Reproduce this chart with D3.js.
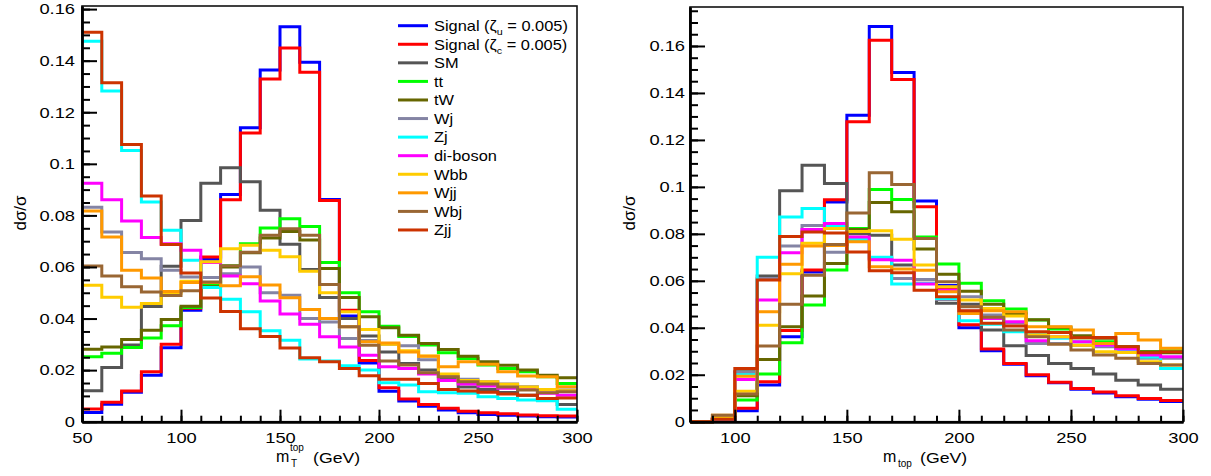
<!DOCTYPE html>
<html><head><meta charset="utf-8">
<script src="https://cdn.jsdelivr.net/npm/d3@7"></script>
<style>
body{margin:0;background:#fff}
svg{display:block}
text{font-family:"Liberation Sans",Arial,Helvetica,sans-serif;fill:#000}
</style>
</head><body>
<svg id="c" width="1211" height="476"></svg>
<script>
// ---------- data ----------
const legendLabels = ["Signal (ζ_u = 0.005)","Signal (ζ_c = 0.005)","SM","tt","tW","Wj","Zj","di-boson","Wbb","Wjj","Wbj","Zjj"];
const seriesColors = ["#0000ff","#ff0000","#555555","#00ff00","#666600","#8484a4","#00ffff","#ff00ff","#ffcc00","#ff9900","#996633","#cc3300"];

const binsLeft  = d3.range(50, 300, 10);   // lower edges, width 10
const binsRight = d3.range(80, 300, 10);
const yTickValues = [0,0.02,0.04,0.06,0.08,0.1,0.12,0.14,0.16];
const xTicksLeft  = [50,100,150,200,250,300];
const xTicksRight = [100,150,200,250,300];

// left panel: m_T^top
const L_sigU    = [0.0036,0.0068,0.0114,0.0180,0.0287,0.0432,0.0630,0.0881,0.1140,0.1364,0.1532,0.1394,0.0862,0.0410,0.0228,0.0118,0.0080,0.0060,0.0045,0.0035,0.0028,0.0025,0.0022,0.0019,0.0018];
const L_sigC    = [0.0049,0.0075,0.0119,0.0194,0.0300,0.0440,0.0639,0.0861,0.1120,0.1329,0.1449,0.1355,0.0858,0.0432,0.0237,0.0132,0.0088,0.0067,0.0052,0.0041,0.0035,0.0031,0.0026,0.0023,0.0022];
const L_SM      = [0.0120,0.0210,0.0297,0.0447,0.0603,0.0780,0.0925,0.0985,0.0930,0.0820,0.0688,0.0590,0.0482,0.0400,0.0332,0.0270,0.0226,0.0200,0.0168,0.0135,0.0125,0.0113,0.0103,0.0090,0.0067];
const L_tt      = [0.0252,0.0265,0.0288,0.0325,0.0372,0.0443,0.0530,0.0605,0.0690,0.0751,0.0787,0.0757,0.0617,0.0500,0.0426,0.0370,0.0330,0.0297,0.0267,0.0245,0.0220,0.0206,0.0194,0.0174,0.0148];
const L_tW      = [0.0281,0.0290,0.0319,0.0355,0.0396,0.0448,0.0523,0.0600,0.0655,0.0712,0.0738,0.0705,0.0594,0.0482,0.0407,0.0364,0.0335,0.0303,0.0280,0.0254,0.0232,0.0219,0.0200,0.0180,0.0170];
const L_Wj      = [0.0832,0.0736,0.0656,0.0632,0.0587,0.0561,0.0559,0.0574,0.0600,0.0500,0.0490,0.0400,0.0387,0.0323,0.0315,0.0300,0.0295,0.0240,0.0174,0.0165,0.0155,0.0146,0.0136,0.0123,0.0123];
const L_Zj      = [0.1475,0.1282,0.1052,0.0852,0.0742,0.0626,0.0520,0.0475,0.0426,0.0353,0.0316,0.0243,0.0235,0.0217,0.0200,0.0151,0.0142,0.0116,0.0112,0.0110,0.0097,0.0090,0.0084,0.0081,0.0048];
const L_diboson = [0.0925,0.0861,0.0778,0.0714,0.0690,0.0665,0.0617,0.0565,0.0535,0.0468,0.0418,0.0378,0.0329,0.0290,0.0258,0.0213,0.0206,0.0185,0.0160,0.0146,0.0138,0.0130,0.0125,0.0110,0.0103];
const L_Wbb     = [0.0529,0.0483,0.0444,0.0458,0.0498,0.0545,0.0620,0.0671,0.0684,0.0665,0.0640,0.0583,0.0500,0.0426,0.0358,0.0300,0.0275,0.0255,0.0185,0.0160,0.0155,0.0145,0.0135,0.0125,0.0120];
const L_Wjj     = [0.0817,0.0716,0.0587,0.0557,0.0505,0.0540,0.0540,0.0527,0.0562,0.0530,0.0481,0.0435,0.0400,0.0368,0.0310,0.0305,0.0270,0.0254,0.0213,0.0232,0.0223,0.0194,0.0177,0.0174,0.0136];
const L_Wbj     = [0.0604,0.0565,0.0523,0.0503,0.0489,0.0508,0.0542,0.0605,0.0657,0.0723,0.0748,0.0723,0.0532,0.0368,0.0296,0.0235,0.0220,0.0190,0.0174,0.0155,0.0146,0.0135,0.0123,0.0112,0.0116];
const L_Zjj     = [0.1510,0.1314,0.1075,0.0875,0.0687,0.0577,0.0480,0.0427,0.0360,0.0330,0.0286,0.0248,0.0232,0.0206,0.0178,0.0165,0.0165,0.0148,0.0125,0.0119,0.0114,0.0107,0.0103,0.0090,0.0092];

// right panel: m_top
const R_sigU    = [0,0.0010,0.0047,0.0156,0.0362,0.0638,0.0936,0.1305,0.1683,0.1487,0.0940,0.0580,0.0400,0.0302,0.0245,0.0196,0.0166,0.0138,0.0122,0.0106,0.0096,0.0086];
const R_sigC    = [0,0.0010,0.0057,0.0170,0.0388,0.0646,0.0945,0.1277,0.1624,0.1457,0.0915,0.0567,0.0413,0.0310,0.0248,0.0200,0.0168,0.0141,0.0126,0.0110,0.0099,0.0090];
const R_SM      = [0,0.0014,0.0213,0.0620,0.0983,0.1092,0.1014,0.0800,0.0794,0.0667,0.0605,0.0504,0.0500,0.0390,0.0323,0.0282,0.0248,0.0227,0.0203,0.0177,0.0156,0.0138];
const R_tt      = [0,0.0010,0.0092,0.0203,0.0336,0.0497,0.0646,0.0823,0.0989,0.0946,0.0787,0.0672,0.0590,0.0515,0.0480,0.0433,0.0395,0.0358,0.0340,0.0319,0.0298,0.0302];
const R_tW      = [0,0.0010,0.0110,0.0265,0.0404,0.0535,0.0674,0.0818,0.0933,0.0894,0.0735,0.0628,0.0556,0.0500,0.0460,0.0434,0.0402,0.0366,0.0355,0.0319,0.0298,0.0294];
const R_Wj      = [0,0.0012,0.0210,0.0610,0.0748,0.0835,0.0722,0.0775,0.0695,0.0610,0.0606,0.0520,0.0532,0.0454,0.0420,0.0333,0.0333,0.0326,0.0319,0.0298,0.0270,0.0270];
const R_Zj      = [0,0.0012,0.0200,0.0700,0.0872,0.0908,0.0835,0.0777,0.0700,0.0586,0.0589,0.0525,0.0430,0.0415,0.0383,0.0370,0.0355,0.0340,0.0325,0.0305,0.0275,0.0227];
const R_diboson = [0,0.0012,0.0180,0.0518,0.0720,0.0818,0.0844,0.0787,0.0690,0.0688,0.0586,0.0560,0.0470,0.0440,0.0426,0.0345,0.0362,0.0340,0.0326,0.0310,0.0284,0.0277];
const R_Wbb     = [0,0.0015,0.0130,0.0411,0.0630,0.0760,0.0823,0.0810,0.0813,0.0777,0.0667,0.0575,0.0518,0.0482,0.0450,0.0369,0.0362,0.0326,0.0298,0.0295,0.0255,0.0241];
const R_Wjj     = [0,0.0028,0.0194,0.0468,0.0671,0.0748,0.0750,0.0766,0.0660,0.0650,0.0645,0.0553,0.0461,0.0472,0.0468,0.0404,0.0404,0.0390,0.0333,0.0376,0.0348,0.0313];
const R_Wbj     = [0,0.0028,0.0118,0.0322,0.0500,0.0624,0.0755,0.0889,0.1060,0.1010,0.0780,0.0596,0.0490,0.0445,0.0390,0.0362,0.0330,0.0305,0.0284,0.0270,0.0248,0.0241];
const R_Zjj     = [0,0.0010,0.0227,0.0603,0.0789,0.0808,0.0804,0.0723,0.0643,0.0634,0.0560,0.0532,0.0472,0.0419,0.0408,0.0383,0.0380,0.0357,0.0359,0.0319,0.0294,0.0298];

const leftSeries  = [L_sigU,L_sigC,L_SM,L_tt,L_tW,L_Wj,L_Zj,L_diboson,L_Wbb,L_Wjj,L_Wbj,L_Zjj];
const rightSeries = [R_sigU,R_sigC,R_SM,R_tt,R_tW,R_Wj,R_Zj,R_diboson,R_Wbb,R_Wjj,R_Wbj,R_Zjj];

// ---------- drawing ----------
const svg = d3.select("#c");
const stretch = [];   // texts to widen (reference glyphs are horizontally stretched)

function panel(cfg){
  const x = d3.scaleLinear().domain(cfg.xDomain).range([cfg.left, cfg.right]);
  const y = d3.scaleLinear().domain(cfg.yDomain).range([cfg.bottom, cfg.top]);
  const g = svg.append("g");

  // histograms
  const line = d3.line().x(d=>x(d[0])).y(d=>y(d[1])).curve(d3.curveStepAfter);
  cfg.series.forEach((vals,i)=>{
    const pts = cfg.bins.map((b,j)=>[b, vals[j]]);
    pts.push([cfg.bins[cfg.bins.length-1]+10, vals[vals.length-1]]);
    g.append("path").attr("d", line(pts)).attr("fill","none")
      .attr("stroke", seriesColors[i]).attr("stroke-width",3)
      .attr("stroke-linejoin","miter");
  });

  // frame
  g.append("rect").attr("x",cfg.left).attr("y",cfg.top)
    .attr("width",cfg.right-cfg.left).attr("height",cfg.bottom-cfg.top)
    .attr("fill","none").attr("stroke","#111").attr("stroke-width",1.6);

  // y axis
  const yMinor = d3.range(0, cfg.yDomain[1]+1e-9, 0.005);
  const yaMin = g.append("g").attr("transform",`translate(${cfg.left},0)`)
    .call(d3.axisLeft(y).tickValues(yMinor).tickSize(-8).tickSizeOuter(0).tickFormat(""));
  const yaMaj = g.append("g").attr("transform",`translate(${cfg.left},0)`)
    .call(d3.axisLeft(y).tickValues(yTickValues).tickSize(-15).tickSizeOuter(0)
      .tickPadding(cfg.yPad).tickFormat(d=> d===0 ? "0" : d3.format(".2~f")(d)));
  // x axis
  const xMinor = d3.range(cfg.xDomain[0], cfg.xDomain[1]+1e-9, 10);
  const xaMin = g.append("g").attr("transform",`translate(0,${cfg.bottom})`)
    .call(d3.axisBottom(x).tickValues(xMinor).tickSize(-6).tickSizeOuter(0).tickFormat(""));
  const xaMaj = g.append("g").attr("transform",`translate(0,${cfg.bottom})`)
    .call(d3.axisBottom(x).tickValues(cfg.xTicks).tickSize(-12).tickSizeOuter(0)
      .tickPadding(10.5).tickFormat(d3.format("d")));
  [yaMin,yaMaj,xaMin,xaMaj].forEach(a=>{
    a.select(".domain").attr("stroke","#000").attr("stroke-width",2.4);
    a.selectAll(".tick line").attr("stroke","#000").attr("stroke-width",2);
    a.selectAll("text").attr("font-size",15).attr("font-family",'"Liberation Sans",Arial,sans-serif')
      .attr("fill","#000").each(function(){stretch.push([this,1.22]);});
  });

  // y title
  g.append("text").attr("transform",`translate(${cfg.yTitleX},213) rotate(-90)`)
    .attr("text-anchor","middle").attr("font-size",17).text("dσ/σ");
  return {x,y,g};
}

const P1 = panel({left:82,right:577,top:6,bottom:421.7,xDomain:[50,300],yDomain:[0,0.1612],
  bins:binsLeft,series:leftSeries,xTicks:xTicksLeft,yPad:7,yTitleX:25.5});
const P2 = panel({left:690,right:1183,top:7,bottom:421.7,xDomain:[80,300],yDomain:[0,0.1766],
  bins:binsRight,series:rightSeries,xTicks:xTicksRight,yPad:5,yTitleX:635});

// x titles
function addText(x,y,size,str,anchor){
  const t = svg.append("text").attr("x",x).attr("y",y).attr("font-size",size)
    .attr("text-anchor",anchor||"start").text(str);
  return t;
}
addText(276,462,16,"m");
addText(291,467,10,"T");
addText(290,451,10,"top");
stretch.push([addText(313,463,15,"(GeV)").node(),1.18]);

addText(883,462,16,"m");
addText(898,467,10,"top");
stretch.push([addText(920,463,15,"(GeV)").node(),1.18]);

// legend
const lg = svg.append("g");
legendLabels.forEach((lab,i)=>{
  const cy = 25.7 + i*18.57;
  lg.append("line").attr("x1",398).attr("x2",428).attr("y1",cy).attr("y2",cy)
    .attr("stroke",seriesColors[i]).attr("stroke-width",3);
  const t = lg.append("text").attr("x",434).attr("y",cy+5.3).attr("font-size",14.5);
  const m = lab.match(/^(.*?)_(\w)(.*)$/);
  if(m){
    t.append("tspan").text(m[1]);
    t.append("tspan").attr("font-size",9.5).attr("dy",4).text(m[2]);
    t.append("tspan").attr("dy",-4).text(m[3]);
  } else t.text(lab);
  stretch.push([t.node(),1.13]);
});

// widen glyphs to match the reference's horizontal stretch
stretch.forEach(([n,f])=>{
  const w = n.getComputedTextLength();
  if(w>0){ d3.select(n).attr("textLength", w*f).attr("lengthAdjust","spacingAndGlyphs"); }
});
</script>
</body></html>
